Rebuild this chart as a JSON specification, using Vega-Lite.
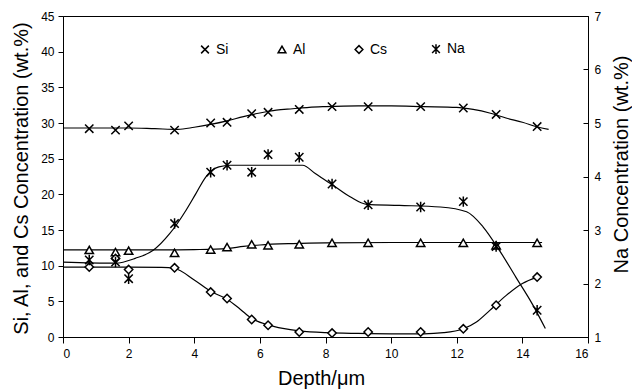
{
  "$schema": "https://vega.github.io/schema/vega-lite/v6.json",
  "width": 525,
  "height": 321,
  "autosize": {"type": "none"},
  "padding": {"left": 63, "top": 16, "right": 44, "bottom": 52},
  "background": "white",
  "config": {
    "font": "Liberation Sans",
    "view": {"stroke": "black", "strokeWidth": 1},
    "axis": {
      "grid": false,
      "domainColor": "black",
      "tickColor": "black",
      "labelColor": "black",
      "titleColor": "black",
      "labelFont": "Liberation Sans",
      "titleFont": "Liberation Sans",
      "labelFontSize": 12,
      "titleFontSize": 20,
      "titleFontWeight": "normal",
      "tickSize": 5,
      "labelPadding": 4
    }
  },
  "datasets": {
    "pts": [
      {"series": "Si", "depth": 0.8, "conc": 29.2},
      {"series": "Si", "depth": 1.6, "conc": 29.0},
      {"series": "Si", "depth": 2.0, "conc": 29.6},
      {"series": "Si", "depth": 3.4, "conc": 29.0},
      {"series": "Si", "depth": 4.5, "conc": 30.0},
      {"series": "Si", "depth": 5.0, "conc": 30.1},
      {"series": "Si", "depth": 5.75, "conc": 31.3},
      {"series": "Si", "depth": 6.25, "conc": 31.5},
      {"series": "Si", "depth": 7.2, "conc": 31.9},
      {"series": "Si", "depth": 8.2, "conc": 32.3},
      {"series": "Si", "depth": 9.3, "conc": 32.3},
      {"series": "Si", "depth": 10.9, "conc": 32.3},
      {"series": "Si", "depth": 12.2, "conc": 32.1},
      {"series": "Si", "depth": 13.2, "conc": 31.2},
      {"series": "Si", "depth": 14.45, "conc": 29.5},
      {"series": "Al", "depth": 0.8, "conc": 12.2},
      {"series": "Al", "depth": 1.6, "conc": 11.9},
      {"series": "Al", "depth": 2.0, "conc": 12.1},
      {"series": "Al", "depth": 3.4, "conc": 11.8},
      {"series": "Al", "depth": 4.5, "conc": 12.25},
      {"series": "Al", "depth": 5.0, "conc": 12.6},
      {"series": "Al", "depth": 5.75, "conc": 13.0},
      {"series": "Al", "depth": 6.25, "conc": 12.85},
      {"series": "Al", "depth": 7.2, "conc": 13.0},
      {"series": "Al", "depth": 8.2, "conc": 13.2},
      {"series": "Al", "depth": 9.3, "conc": 13.2},
      {"series": "Al", "depth": 10.9, "conc": 13.2},
      {"series": "Al", "depth": 12.2, "conc": 13.2},
      {"series": "Al", "depth": 13.2, "conc": 12.85},
      {"series": "Al", "depth": 14.45, "conc": 13.2},
      {"series": "Cs", "depth": 0.8, "conc": 9.8},
      {"series": "Cs", "depth": 1.6, "conc": 11.0},
      {"series": "Cs", "depth": 2.0, "conc": 9.45},
      {"series": "Cs", "depth": 3.4, "conc": 9.7},
      {"series": "Cs", "depth": 4.5, "conc": 6.3},
      {"series": "Cs", "depth": 5.0, "conc": 5.4},
      {"series": "Cs", "depth": 5.75, "conc": 2.45},
      {"series": "Cs", "depth": 6.25, "conc": 1.65},
      {"series": "Cs", "depth": 7.2, "conc": 0.7},
      {"series": "Cs", "depth": 8.2, "conc": 0.55},
      {"series": "Cs", "depth": 9.3, "conc": 0.7},
      {"series": "Cs", "depth": 10.9, "conc": 0.7},
      {"series": "Cs", "depth": 12.2, "conc": 1.15},
      {"series": "Cs", "depth": 13.2, "conc": 4.45},
      {"series": "Cs", "depth": 14.45, "conc": 8.4},
      {"series": "Na", "depth": 0.8, "conc": 2.44},
      {"series": "Na", "depth": 1.6, "conc": 2.40},
      {"series": "Na", "depth": 2.0, "conc": 2.09},
      {"series": "Na", "depth": 3.4, "conc": 3.12},
      {"series": "Na", "depth": 4.5, "conc": 4.08},
      {"series": "Na", "depth": 5.0, "conc": 4.21},
      {"series": "Na", "depth": 5.75, "conc": 4.08},
      {"series": "Na", "depth": 6.25, "conc": 4.41},
      {"series": "Na", "depth": 7.2, "conc": 4.36},
      {"series": "Na", "depth": 8.2, "conc": 3.86},
      {"series": "Na", "depth": 9.3, "conc": 3.47},
      {"series": "Na", "depth": 10.9, "conc": 3.43},
      {"series": "Na", "depth": 12.2, "conc": 3.53},
      {"series": "Na", "depth": 13.2, "conc": 2.69},
      {"series": "Na", "depth": 14.45, "conc": 1.50}
    ],
    "curves": [
      {"series": "Si", "depth": 0, "conc": 29.3},
      {"series": "Si", "depth": 1, "conc": 29.3},
      {"series": "Si", "depth": 2, "conc": 29.3},
      {"series": "Si", "depth": 2.8, "conc": 29.2},
      {"series": "Si", "depth": 3.5, "conc": 29.1},
      {"series": "Si", "depth": 4, "conc": 29.4},
      {"series": "Si", "depth": 4.5, "conc": 29.8},
      {"series": "Si", "depth": 5, "conc": 30.3},
      {"series": "Si", "depth": 5.5, "conc": 30.9},
      {"series": "Si", "depth": 6, "conc": 31.4},
      {"series": "Si", "depth": 6.5, "conc": 31.8},
      {"series": "Si", "depth": 7, "conc": 32.0},
      {"series": "Si", "depth": 7.5, "conc": 32.2},
      {"series": "Si", "depth": 8, "conc": 32.3},
      {"series": "Si", "depth": 9, "conc": 32.4},
      {"series": "Si", "depth": 10, "conc": 32.4},
      {"series": "Si", "depth": 11, "conc": 32.3},
      {"series": "Si", "depth": 12, "conc": 32.2},
      {"series": "Si", "depth": 12.5, "conc": 31.9},
      {"series": "Si", "depth": 13, "conc": 31.4},
      {"series": "Si", "depth": 13.5, "conc": 30.7},
      {"series": "Si", "depth": 14, "conc": 30.1},
      {"series": "Si", "depth": 14.5, "conc": 29.4},
      {"series": "Si", "depth": 14.8, "conc": 29.1},
      {"series": "Al", "depth": 0, "conc": 12.2},
      {"series": "Al", "depth": 3, "conc": 12.2},
      {"series": "Al", "depth": 4, "conc": 12.25},
      {"series": "Al", "depth": 5, "conc": 12.4},
      {"series": "Al", "depth": 5.5, "conc": 12.7},
      {"series": "Al", "depth": 6, "conc": 12.9},
      {"series": "Al", "depth": 7, "conc": 13.1},
      {"series": "Al", "depth": 8, "conc": 13.2},
      {"series": "Al", "depth": 10, "conc": 13.25},
      {"series": "Al", "depth": 12, "conc": 13.25},
      {"series": "Al", "depth": 14.6, "conc": 13.25},
      {"series": "Cs", "depth": 0, "conc": 9.8},
      {"series": "Cs", "depth": 2, "conc": 9.8},
      {"series": "Cs", "depth": 3, "conc": 9.75},
      {"series": "Cs", "depth": 3.4, "conc": 9.6},
      {"series": "Cs", "depth": 4, "conc": 8.0},
      {"series": "Cs", "depth": 4.5, "conc": 6.4},
      {"series": "Cs", "depth": 5, "conc": 5.3},
      {"series": "Cs", "depth": 5.4, "conc": 3.9},
      {"series": "Cs", "depth": 5.75, "conc": 2.6},
      {"series": "Cs", "depth": 6.25, "conc": 1.7},
      {"series": "Cs", "depth": 6.7, "conc": 1.2},
      {"series": "Cs", "depth": 7.2, "conc": 0.85},
      {"series": "Cs", "depth": 8, "conc": 0.6},
      {"series": "Cs", "depth": 9, "conc": 0.5},
      {"series": "Cs", "depth": 10, "conc": 0.45},
      {"series": "Cs", "depth": 11, "conc": 0.45},
      {"series": "Cs", "depth": 11.6, "conc": 0.6},
      {"series": "Cs", "depth": 12.2, "conc": 1.15},
      {"series": "Cs", "depth": 12.6, "conc": 2.1},
      {"series": "Cs", "depth": 13, "conc": 3.7},
      {"series": "Cs", "depth": 13.5, "conc": 5.8},
      {"series": "Cs", "depth": 14, "conc": 7.5},
      {"series": "Cs", "depth": 14.45, "conc": 8.4},
      {"series": "Na", "depth": 0, "conc": 2.40},
      {"series": "Na", "depth": 1.6, "conc": 2.38},
      {"series": "Na", "depth": 2.2, "conc": 2.47},
      {"series": "Na", "depth": 2.75, "conc": 2.62},
      {"series": "Na", "depth": 3.25, "conc": 2.93},
      {"series": "Na", "depth": 3.75, "conc": 3.37},
      {"series": "Na", "depth": 4.05, "conc": 3.68},
      {"series": "Na", "depth": 4.35, "conc": 3.99},
      {"series": "Na", "depth": 4.75, "conc": 4.18},
      {"series": "Na", "depth": 5.1, "conc": 4.21},
      {"series": "Na", "depth": 7.3, "conc": 4.21},
      {"series": "Na", "depth": 7.7, "conc": 4.05},
      {"series": "Na", "depth": 8.2, "conc": 3.85},
      {"series": "Na", "depth": 8.75, "conc": 3.62},
      {"series": "Na", "depth": 9.25, "conc": 3.48},
      {"series": "Na", "depth": 10.25, "conc": 3.46},
      {"series": "Na", "depth": 11.5, "conc": 3.43},
      {"series": "Na", "depth": 12.3, "conc": 3.34},
      {"series": "Na", "depth": 12.8, "conc": 3.06},
      {"series": "Na", "depth": 13.3, "conc": 2.62},
      {"series": "Na", "depth": 13.8, "conc": 2.12},
      {"series": "Na", "depth": 14.3, "conc": 1.62},
      {"series": "Na", "depth": 14.7, "conc": 1.16}
    ]
  },
  "layer": [
    {
      "layer": [
        {
          "data": {"name": "curves"},
          "transform": [{"filter": "datum.series !== 'Na'"}],
          "mark": {"type": "line", "interpolate": "monotone", "color": "black", "strokeWidth": 1.2},
          "encoding": {
            "x": {"field": "depth", "type": "quantitative", "scale": {"domain": [0, 16], "nice": false},
                  "axis": {"values": [0, 2, 4, 6, 8, 10, 12, 14, 16], "title": "Depth/μm", "tickSize": 6, "labelPadding": 5, "titleX": 258, "titleY": 41, "titleBaseline": "middle"}},
            "y": {"field": "conc", "type": "quantitative", "scale": {"domain": [0, 45], "nice": false},
                  "axis": {"values": [0, 5, 10, 15, 20, 25, 30, 35, 40, 45], "title": "Si, Al, and Cs Concentration (wt.%)", "tickSize": 5, "labelPadding": 4, "titleX": -42, "titleY": 162, "titleBaseline": "middle", "titleAlign": "center"}},
            "detail": {"field": "series"}
          }
        },
        {
          "data": {"name": "pts"},
          "transform": [{"filter": "datum.series !== 'Na'"}],
          "mark": {"type": "point", "filled": false, "fill": "white", "stroke": "black", "strokeWidth": 1.5, "opacity": 1, "size": 70},
          "encoding": {
            "x": {"field": "depth", "type": "quantitative", "scale": {"domain": [0, 16], "nice": false},
                  "axis": {"values": [0, 2, 4, 6, 8, 10, 12, 14, 16], "title": "Depth/μm", "tickSize": 6, "labelPadding": 5, "titleX": 258, "titleY": 41, "titleBaseline": "middle"}},
            "y": {"field": "conc", "type": "quantitative", "scale": {"domain": [0, 45], "nice": false},
                  "axis": {"values": [0, 5, 10, 15, 20, 25, 30, 35, 40, 45], "title": "Si, Al, and Cs Concentration (wt.%)", "tickSize": 5, "labelPadding": 4, "titleX": -42, "titleY": 162, "titleBaseline": "middle", "titleAlign": "center"}},
            "shape": {"field": "series", "type": "nominal",
                      "scale": {"domain": ["Si", "Al", "Cs", "Na"], "range": ["M-1,-1L1,1M1,-1L-1,1", "triangle-up", "diamond", "M-1,-1L1,1M1,-1L-1,1M0,-1.25L0,1.25"]},
                      "legend": {"orient": "none", "legendX": 135, "legendY": 26, "direction": "horizontal", "title": null, "padding": 0,
                                 "labelFontSize": 14, "labelFont": "Liberation Sans", "labelColor": "black", "labelOffset": 4, "columnPadding": 41, "gridAlign": "all",
                                 "symbolSize": 60,
                                 "encode": {"symbols": {"update": {"fill": {"value": "white"}, "stroke": {"value": "black"}, "strokeWidth": {"value": 1.5}, "opacity": {"value": 1}}}}}}
          }
        }
      ]
    },
    {
      "layer": [
        {
          "data": {"name": "curves"},
          "transform": [{"filter": "datum.series === 'Na'"}],
          "mark": {"type": "line", "interpolate": "monotone", "color": "black", "strokeWidth": 1.2},
          "encoding": {
            "x": {"field": "depth", "type": "quantitative", "scale": {"domain": [0, 16], "nice": false},
                  "axis": {"values": [0, 2, 4, 6, 8, 10, 12, 14, 16], "title": "Depth/μm", "tickSize": 6, "labelPadding": 5, "titleX": 258, "titleY": 41, "titleBaseline": "middle"}},
            "y": {"field": "conc", "type": "quantitative", "scale": {"domain": [1, 7], "nice": false},
                  "axis": {"orient": "right", "values": [1, 2, 3, 4, 5, 6, 7], "title": "Na Concentration (wt.%)", "tickSize": -5, "labelPadding": 11, "titleX": 33, "titleY": 148, "titleAngle": 270, "titleBaseline": "middle", "titleAlign": "center"}}
          }
        },
        {
          "data": {"name": "pts"},
          "transform": [{"filter": "datum.series === 'Na'"}],
          "mark": {"type": "point", "filled": false, "fill": "white", "stroke": "black", "strokeWidth": 1.5, "opacity": 1, "size": 70},
          "encoding": {
            "x": {"field": "depth", "type": "quantitative", "scale": {"domain": [0, 16], "nice": false},
                  "axis": {"values": [0, 2, 4, 6, 8, 10, 12, 14, 16], "title": "Depth/μm", "tickSize": 6, "labelPadding": 5, "titleX": 258, "titleY": 41, "titleBaseline": "middle"}},
            "y": {"field": "conc", "type": "quantitative", "scale": {"domain": [1, 7], "nice": false},
                  "axis": {"orient": "right", "values": [1, 2, 3, 4, 5, 6, 7], "title": "Na Concentration (wt.%)", "tickSize": -5, "labelPadding": 11, "titleX": 33, "titleY": 148, "titleAngle": 270, "titleBaseline": "middle", "titleAlign": "center"}},
            "shape": {"field": "series", "type": "nominal",
                      "scale": {"domain": ["Si", "Al", "Cs", "Na"], "range": ["M-1,-1L1,1M1,-1L-1,1", "triangle-up", "diamond", "M-1,-1L1,1M1,-1L-1,1M0,-1.25L0,1.25"]},
                      "legend": {"orient": "none", "legendX": 135, "legendY": 26, "direction": "horizontal", "title": null, "padding": 0,
                                 "labelFontSize": 14, "labelFont": "Liberation Sans", "labelColor": "black", "labelOffset": 4, "columnPadding": 41, "gridAlign": "all",
                                 "symbolSize": 60,
                                 "encode": {"symbols": {"update": {"fill": {"value": "white"}, "stroke": {"value": "black"}, "strokeWidth": {"value": 1.5}, "opacity": {"value": 1}}}}}}
          }
        }
      ]
    }
  ],
  "resolve": {"scale": {"y": "independent"}}
}
